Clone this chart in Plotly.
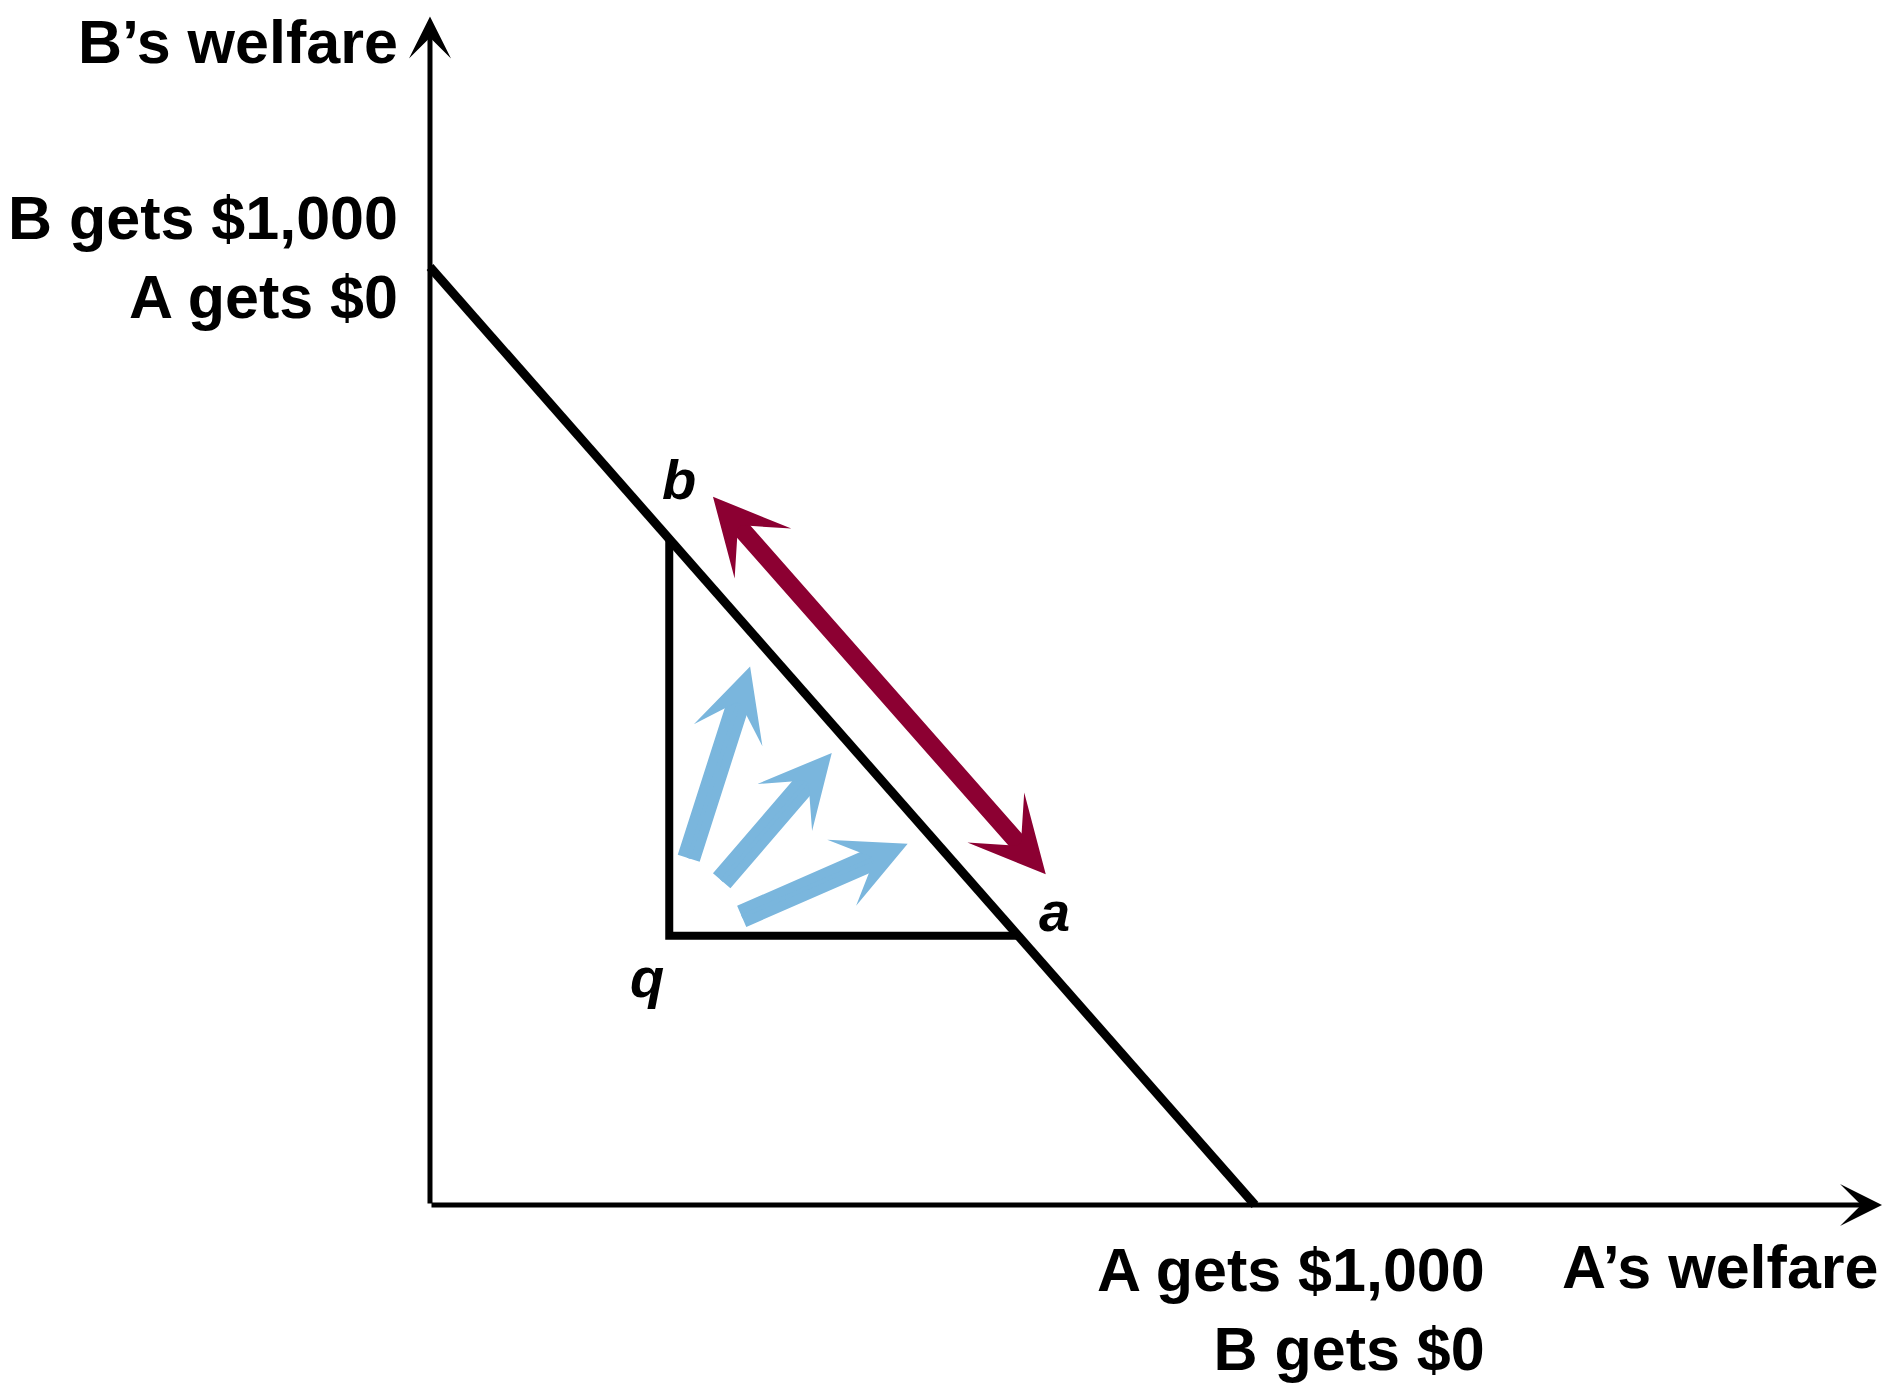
import plotly.graph_objects as go

# ---- data (welfare units, $) ----
budget_x = [0, 1000]          # A gets $0 ... A gets $1,000
budget_y = [1000, 0]          # B gets $1,000 ... B gets $0
axis_end_x = 1760
axis_end_y = 1267
tri_labels = ["b", "q", "a"]
tri_x = [290, 290, 713]
tri_y = [710, 287, 287]
trade_x = [343, 748]          # red double arrow (ends)
trade_y = [755, 351]
pareto_tail_x = [313, 352, 376]
pareto_tail_y = [368, 344, 307]
pareto_head_x = [388, 487, 579]
pareto_head_y = [574, 482, 385]

RED = "#8C0032"
BLUE = "#7AB6DD"
FONT = "Liberation Sans, Arial, sans-serif"

fig = go.Figure()

fig.add_trace(go.Scatter(x=budget_x, y=budget_y, mode="lines",
                         line=dict(color="black", width=9), hoverinfo="skip"))
fig.add_trace(go.Scatter(x=tri_x, y=tri_y, mode="lines",
                         line=dict(color="black", width=8), hoverinfo="skip"))


def arrow(tx, ty, hx, hy, color, width, size, both=False, head=3, standoff=0):
    fig.add_annotation(x=hx, y=hy, ax=tx, ay=ty, xref="x", yref="y",
                       axref="x", ayref="y", text="", showarrow=True,
                       arrowhead=head, arrowsize=size, arrowwidth=width,
                       arrowcolor=color, standoff=standoff, startstandoff=0,
                       startarrowhead=head, startarrowsize=size,
                       arrowside="end+start" if both else "end")


# axes
arrow(0, 0, axis_end_x, 0, "black", 5, 1.4)
arrow(0, 0, 0, axis_end_y, "black", 5, 1.4)
# red double arrow along the frontier
arrow(trade_x[1], trade_y[1], trade_x[0], trade_y[0], RED, 18, 0.7, both=True)
# blue Pareto-improvement arrows: thick shaft + head drawn on a thin line
for tx, ty, hx, hy in zip(pareto_tail_x, pareto_tail_y, pareto_head_x, pareto_head_y):
    arrow(tx, ty, hx, hy, BLUE, 23, 1, head=0, standoff=30)
    arrow(tx, ty, hx, hy, BLUE, 4, 3.0)


def label(text, x, y, xa, ya, xs, ys, size=61, italic=False, align="right"):
    fig.add_annotation(x=x, y=y, xref="x", yref="y", text=text, showarrow=False,
                       xanchor=xa, yanchor=ya, xshift=xs, yshift=ys, align=align,
                       font=dict(family=FONT, size=size, color="black", weight="bold",
                                 style="italic" if italic else "normal"))


label("B’s welfare", 0, axis_end_y, "right", "middle", -30, -25)
label("B gets $1,000<br>A gets $0", 0, budget_y[0], "right", "middle", -30, 9)
label("A gets $1,000<br>B gets $0", budget_x[1], 0, "right", "middle", 232, -104)
label("A’s welfare", axis_end_x, 0, "right", "middle", -2, -62)
label(tri_labels[0], tri_x[0], tri_y[0], "center", "middle", 10, 60, size=56, italic=True)
label(tri_labels[1], tri_x[1], tri_y[1], "center", "middle", -22, -42, size=56, italic=True)
label(tri_labels[2], tri_x[2], tri_y[2], "center", "middle", 36, 24, size=56, italic=True)

fig.update_layout(
    width=1883, height=1390, margin=dict(l=0, r=0, t=0, b=0),
    plot_bgcolor="white", paper_bgcolor="white", showlegend=False,
    xaxis=dict(range=[-521.2, 1761.2], visible=False, fixedrange=True),
    yaxis=dict(range=[-197.2, 1284.6], visible=False, fixedrange=True),
)

fig.write_html("out.html", include_plotlyjs=True, full_html=True,
               config={"displayModeBar": False},
               post_script="document.body.style.margin='0';")
